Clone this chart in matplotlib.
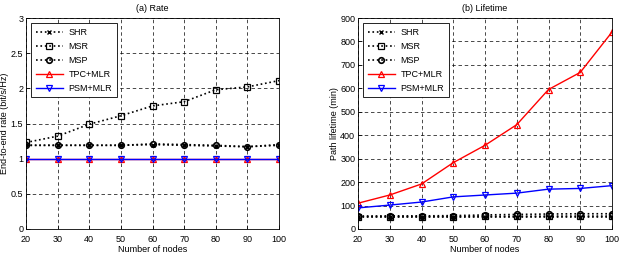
import numpy as np
import matplotlib.pyplot as plt

plt.rcParams.update({
    "font.family": "Liberation Sans",
    "font.size": 6.5,
})

nodes = [20, 30, 40, 50, 60, 70, 80, 90, 100]

# (a) end-to-end rate (bit/s/Hz)
rate_shr = [1.19, 1.19, 1.19, 1.19, 1.20, 1.19, 1.18, 1.17, 1.19]
rate_msr = [1.23, 1.32, 1.49, 1.61, 1.75, 1.81, 1.98, 2.02, 2.11]
rate_msp = [1.19, 1.19, 1.19, 1.19, 1.21, 1.20, 1.19, 1.17, 1.20]
rate_tpc = [1.0, 1.0, 1.0, 1.0, 1.0, 1.0, 1.0, 1.0, 1.0]
rate_psm = [1.0, 1.0, 1.0, 1.0, 1.0, 1.0, 1.0, 1.0, 1.0]

# (b) path lifetime (min)
life_shr = [52, 52, 52, 52, 52, 52, 52, 52, 52]
life_msr = [53, 53, 53, 53, 54, 54, 55, 55, 55]
life_msp = [55, 56, 56, 57, 60, 62, 64, 65, 65]
life_tpc = [110, 145, 192, 283, 357, 445, 595, 668, 840]
life_psm = [90, 102, 115, 137, 145, 153, 170, 173, 185]

labels = ["SHR", "MSR", "MSP", "TPC+MLR", "PSM+MLR"]

fig = plt.figure(figsize=(6.2, 2.59), dpi=100)
ax1 = fig.add_axes([26 / 620, 1 - 229 / 259, 253 / 620, 211 / 259])
ax2 = fig.add_axes([358 / 620, 1 - 229 / 259, 254 / 620, 211 / 259])


def draw(ax, series):
    styles = [
        dict(color="k", ls=":", marker="x", ms=3, mew=1.0, lw=1.2),
        dict(color="k", ls=":", marker="s", ms=4, mfc="none", mew=0.9, lw=1.2),
        dict(color="k", ls=":", marker="o", ms=4, mfc="none", mew=1.2, lw=1.2),
        dict(color="red", ls="-", marker="^", ms=5, mfc="none", mew=0.9, lw=1.0),
        dict(color="blue", ls="-", marker="v", ms=5, mfc="none", mew=0.9, lw=1.0),
    ]
    for vals, lab, st in zip(series, labels, styles):
        ax.plot(nodes, vals, label=lab, **st)
    ax.set_xlim(20, 100)
    ax.set_xticks(nodes)
    ax.grid(True, color="k", ls=(0, (5, 4)), lw=0.5)
    ax.tick_params(direction="in", length=3, width=0.5, pad=2)
    ax.tick_params(axis="x", pad=4)
    for s in ax.spines.values():
        s.set_linewidth(0.6)
    ax.set_xlabel("Number of nodes", labelpad=1)
    leg = ax.legend(loc="upper left", fancybox=False, edgecolor="k",
                    handlelength=3.0, handletextpad=0.6, borderpad=0.5,
                    labelspacing=0.55, fontsize=6.5, framealpha=1,
                    borderaxespad=0.6)
    leg.get_frame().set_linewidth(0.6)


draw(ax1, [rate_shr, rate_msr, rate_msp, rate_tpc, rate_psm])
ax1.set_ylim(0, 3)
ax1.set_yticks([0, 0.5, 1, 1.5, 2, 2.5, 3])
ax1.set_yticklabels(["0", "0.5", "1", "1.5", "2", "2.5", "3"])
ax1.set_ylabel("End-to-end rate (bit/s/Hz)", labelpad=1)
ax1.set_title("(a) Rate", pad=5, fontsize=6.5)

draw(ax2, [life_shr, life_msr, life_msp, life_tpc, life_psm])
ax2.set_ylim(0, 900)
ax2.set_yticks(range(0, 901, 100))
ax2.set_ylabel("Path lifetime (min)", labelpad=1)
ax2.set_title("(b) Lifetime", pad=5, fontsize=6.5)

fig.savefig("out.png", dpi=100)
